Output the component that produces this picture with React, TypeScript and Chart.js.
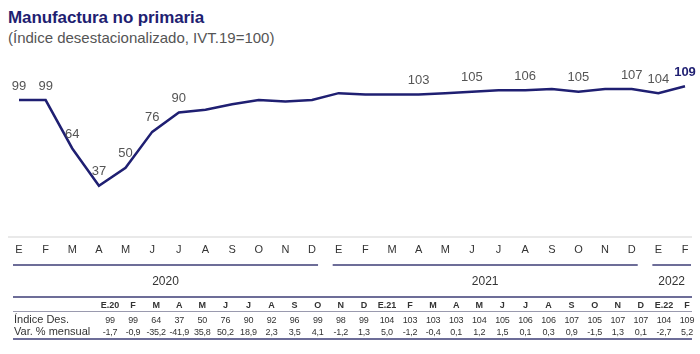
import React, { useEffect, useRef } from "react";
import { Chart, registerables } from "chart.js";

Chart.register(...registerables);

const monthLabels = ["E","F","M","A","M","J","J","A","S","O","N","D","E","F","M","A","M","J","J","A","S","O","N","D","E","F"];
const years = ["2020", "2021", "2022"];
const yearStart = [0, 12, 24];
const yearEnd = [11, 23, 25];
const indexValues = [99,99,64,37,50,76,90,92,96,99,98,99,104,103,103,103,104,105,106,106,107,105,107,107,104,109];
const varValues = ["-1,7","-0,9","-35,2","-41,9","35,8","50,2","18,9","2,3","3,5","4,1","-1,2","1,3","5,0","-1,2","-0,4","0,1","1,2","1,5","0,1","0,3","0,9","-1,5","1,3","0,1","-2,7","5,2"];
const tableHeaders = ["E.20","F","M","A","M","J","J","A","S","O","N","D","E.21","F","M","A","M","J","J","A","S","O","N","D","E.22","F"];
const labeledIdx = [0,1,2,3,4,5,6,15,17,19,21,23,24,25];

const FONT = "'Liberation Sans', Arial, sans-serif";
const NAVY = "#1f1f72";
const RULE = "#6d6d98";

const overlayPlugin = {
  id: "overlay",
  afterDraw(chart: any) {
    const ctx = chart.ctx;
    const meta = chart.getDatasetMeta(0);
    const xs = chart.scales.x;
    const area = chart.chartArea;
    ctx.save();
    ctx.strokeStyle = "#e2e2e2";
    ctx.lineWidth = 1.5;
    ctx.beginPath();
    ctx.moveTo(8, area.bottom);
    ctx.lineTo(692, area.bottom);
    ctx.stroke();
    ctx.textAlign = "center";
    ctx.textBaseline = "middle";
    labeledIdx.forEach((i) => {
      const p = meta.data[i];
      const last = i === indexValues.length - 1;
      ctx.font = (last ? "bold 13px " : "13px ") + FONT;
      ctx.fillStyle = last ? NAVY : "#555";
      ctx.fillText(String(indexValues[i]), p.x, p.y - 14);
    });
    years.forEach((y, k) => {
      const x0 = xs.getPixelForValue(yearStart[k]) - 6;
      const x1 = xs.getPixelForValue(yearEnd[k]) + 6;
      ctx.strokeStyle = RULE;
      ctx.lineWidth = 2;
      ctx.beginPath();
      ctx.moveTo(x0, area.bottom + 28);
      ctx.lineTo(x1, area.bottom + 28);
      ctx.stroke();
      ctx.font = "12px " + FONT;
      ctx.fillStyle = "#333";
      ctx.fillText(y, (x0 + x1) / 2, area.bottom + 45);
    });
    ctx.restore();
  },
};

export default function App() {
  const ref = useRef<HTMLCanvasElement>(null);
  useEffect(() => {
    if (!ref.current) return;
    const chart = new Chart(ref.current, {
      type: "line",
      data: {
        labels: monthLabels,
        datasets: [
          {
            data: indexValues,
            borderColor: NAVY,
            borderWidth: 2.5,
            pointRadius: 0,
            tension: 0,
            fill: false,
          },
        ],
      },
      options: {
        responsive: false,
        animation: false,
        layout: { padding: { left: 19, right: 15, top: 21, bottom: 43 } },
        plugins: { legend: { display: false }, tooltip: { enabled: false }, title: { display: false } },
        scales: {
          x: {
            offset: false,
            grid: { display: false, drawTicks: false },
            border: { display: false },
            ticks: {
              autoSkip: false,
              maxRotation: 0,
              padding: 6,
              color: "#333",
              font: { size: 11, family: FONT },
            },
            afterFit: (scale: any) => {
              scale.height = 20;
            },
          },
          y: { display: false, min: 0, max: 120 },
        },
      },
      plugins: [overlayPlugin],
    });
    return () => chart.destroy();
  }, []);

  const colX = (i: number) => 110 + i * 23.08;
  const cell = (top: number, x: number, text: string, bold = false, size = 9): React.ReactNode => (
    <div
      style={{
        position: "absolute",
        left: x - 20,
        width: 40,
        top: top,
        textAlign: "center",
        fontSize: size,
        fontWeight: bold ? "bold" : "normal",
        color: "#333",
        lineHeight: "12px",
        whiteSpace: "nowrap",
        letterSpacing: bold ? 0 : -0.2,
      }}
    >
      {text}
    </div>
  );

  return (
    <div style={{ position: "absolute", left: 0, top: 0, width: 700, height: 354, background: "#fff", fontFamily: FONT, overflow: "hidden" }}>
      <div style={{ position: "absolute", left: 8, top: 7, fontSize: 17, fontWeight: "bold", color: NAVY, lineHeight: "21px", whiteSpace: "nowrap", letterSpacing: -0.1 }}>
        Manufactura no primaria
      </div>
      <div style={{ position: "absolute", left: 8, top: 28, fontSize: 15, color: "#555", lineHeight: "19px", whiteSpace: "nowrap" }}>
        (Índice desestacionalizado, IVT.19=100)
      </div>
      <canvas ref={ref} width={700} height={250} style={{ position: "absolute", left: 0, top: 50, width: 700, height: 250 }} />
      <div style={{ position: "absolute", left: 13, width: 679, top: 296, borderTop: `2px solid ${RULE}` }} />
      {tableHeaders.map((h, i) => <React.Fragment key={"h" + i}>{cell(299, colX(i), h, true, 9)}</React.Fragment>)}
      <div style={{ position: "absolute", left: 13, width: 679, top: 311, borderTop: "1px solid #9a9aae" }} />
      <div style={{ position: "absolute", left: 14, top: 313, fontSize: 11, color: "#333", lineHeight: "12px" }}>Índice Des.</div>
      {indexValues.map((v, i) => <React.Fragment key={"v" + i}>{cell(313.5, colX(i), String(v))}</React.Fragment>)}
      <div style={{ position: "absolute", left: 14, top: 325, fontSize: 11, color: "#333", lineHeight: "12px" }}>Var. % mensual</div>
      {varValues.map((v, i) => <React.Fragment key={"r" + i}>{cell(325.5, colX(i), v)}</React.Fragment>)}
      <div style={{ position: "absolute", left: 13, width: 679, top: 338, borderTop: `2px solid ${RULE}` }} />
    </div>
  );
}
